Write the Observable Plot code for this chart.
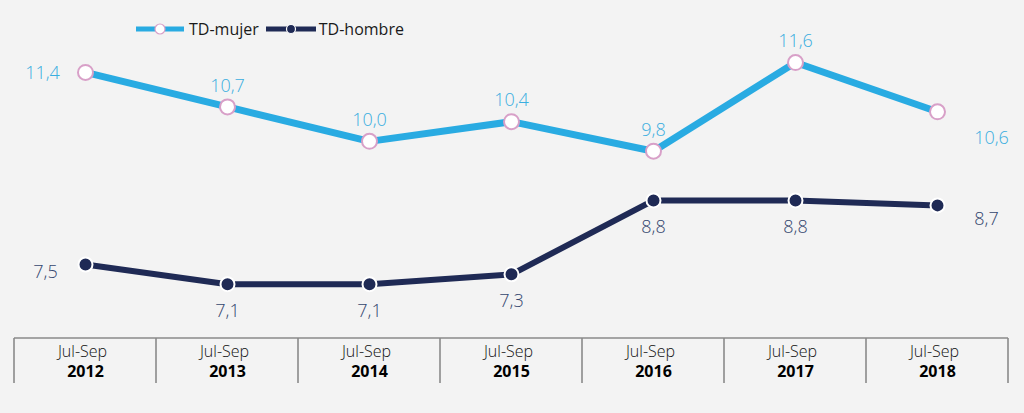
<!DOCTYPE html>
<html><head><meta charset="utf-8">
<script src="https://cdn.jsdelivr.net/npm/d3@7"></script>
<script src="https://cdn.jsdelivr.net/npm/@observablehq/plot@0.6"></script>
<style>
body{margin:0;background:#f3f3f3;}
#wrap{position:relative;width:1024px;height:413px;overflow:hidden;}
#legend{position:absolute;left:136px;top:18px;display:flex;align-items:center;font:16px "Open Sans",sans-serif;color:#1a1a1a;}
#legend svg{display:block;}
</style></head><body><div id="wrap"><div id="legend"></div></div>
<script>
const periods = ["2012","2013","2014","2015","2016","2017","2018"];
const periodPrefix = "Jul-Sep";
const mujer = [11.4, 10.7, 10.0, 10.4, 9.8, 11.6, 10.6];
const hombre = [7.5, 7.1, 7.1, 7.3, 8.8, 8.8, 8.7];
const seriesNames = ["TD-mujer", "TD-hombre"];

const BLUE = "#29abe2", NAVY = "#1f2a55", PINK = "#d8a0c8";
const LBL_M = "#3aaee0", LBL_H = "#34466e";
const FONT = "Open Sans, sans-serif";

const fmt = v => d3.format(".1f")(v).replace(".", ",");
const rowsM = periods.map((p, i) => ({period: p, value: mujer[i], i}));
const rowsH = periods.map((p, i) => ({period: p, value: hombre[i], i}));
const lastIdx = periods.length - 1;
const isFirst = r => r.i === 0, isLast = r => r.i === lastIdx, isMid = r => r.i > 0 && r.i < lastIdx;

const txt = {x: "period", y: "value", text: d => fmt(d.value), fontSize: 18, fontWeight: 300};

const plot = Plot.plot({
  width: 1024, height: 413,
  marginLeft: 12, marginRight: 14, marginTop: 0, marginBottom: 85,
  style: {background: "transparent", fontFamily: FONT},
  x: {type: "band", domain: periods, padding: 0, axis: null},
  y: {domain: [6.2, 12.86], axis: null},
  marks: [
    Plot.line(rowsM, {x: "period", y: "value", stroke: BLUE, strokeWidth: 7}),
    Plot.line(rowsH, {x: "period", y: "value", stroke: NAVY, strokeWidth: 6}),
    Plot.dot(rowsM, {x: "period", y: "value", r: 7.5, fill: "white", stroke: PINK, strokeWidth: 2}),
    Plot.dot(rowsH, {x: "period", y: "value", r: 7, fill: NAVY, stroke: "white", strokeWidth: 2}),
    Plot.text(rowsM.filter(isFirst), {...txt, fill: LBL_M, dx: -43, dy: 1}),
    Plot.text(rowsM.filter(isMid), {...txt, fill: LBL_M, dy: -21}),
    Plot.text(rowsM.filter(isLast), {...txt, fill: LBL_M, dx: 54, dy: 26}),
    Plot.text(rowsH.filter(isFirst), {...txt, fill: LBL_H, dx: -40, dy: 8}),
    Plot.text(rowsH.filter(isMid), {...txt, fill: LBL_H, dy: 27}),
    Plot.text(rowsH.filter(isLast), {...txt, fill: LBL_H, dx: 49, dy: 14}),
    Plot.text(periods, {x: d => d, text: () => periodPrefix, frameAnchor: "bottom", lineAnchor: "middle", dy: 23, dx: -3, fontSize: 16, fontWeight: 300, fill: "#111"}),
    Plot.text(periods, {x: d => d, text: d => d, frameAnchor: "bottom", lineAnchor: "middle", dy: 43, fontSize: 16, fontWeight: 700, fill: "#000"})
  ]
});

// axis boxes from the x scale
const xs = plot.scale("x");
const frameBottom = 413 - 85;
const boxTop = frameBottom + 10, boxBot = frameBottom + 55;
const edges = periods.map(p => xs.apply(p)).concat([xs.apply(periods[lastIdx]) + xs.bandwidth]);
const g = d3.select(plot).append("g").attr("stroke", "#8a8a8a").attr("stroke-width", 1.6).attr("fill", "none");
g.append("line").attr("x1", edges[0]).attr("x2", edges[edges.length - 1]).attr("y1", boxTop).attr("y2", boxTop);
edges.forEach(e => g.append("line").attr("x1", e).attr("x2", e).attr("y1", boxTop).attr("y2", boxBot));

document.getElementById("wrap").appendChild(plot);

// legend
const legend = document.getElementById("legend");
function swatch(color, dotFill, dotStroke, r, w) {
  return `<svg width="${w}" height="14"><line x1="0" x2="${w}" y1="7" y2="7" stroke="${color}" stroke-width="5"/><circle cx="${w/2}" cy="7" r="${r}" fill="${dotFill}" stroke="${dotStroke}" stroke-width="1.2"/></svg>`;
}
legend.innerHTML =
  swatch(BLUE, "white", PINK, 5, 48) + `<span style="margin-left:5px;margin-right:7px">${seriesNames[0]}</span>` +
  swatch(NAVY, NAVY, "white", 4.5, 50) + `<span style="margin-left:3px">${seriesNames[1]}</span>`;
</script></body></html>
